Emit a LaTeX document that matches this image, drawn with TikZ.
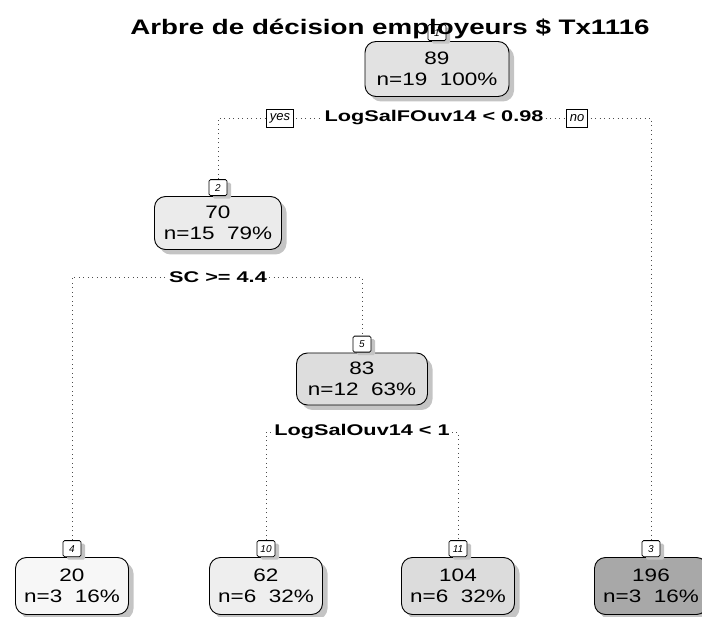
\documentclass[tikz,border=0pt]{standalone}
\usepackage{fontspec}
\setmainfont{Liberation Sans}
\newfontfamily\boxfont[FakeStretch=1.25]{Liberation Sans}
\newfontfamily\splitfont[FakeStretch=1.4]{Liberation Sans}
\newfontfamily\titlefont[FakeStretch=1.32]{Liberation Sans}
\usetikzlibrary{shadows,backgrounds}
\definecolor{cRoot}{HTML}{E2E2E2}
\definecolor{cTwo}{HTML}{EBEBEB}
\definecolor{cFive}{HTML}{DDDDDD}
\definecolor{cFour}{HTML}{F7F7F7}
\definecolor{cTen}{HTML}{EEEEEE}
\definecolor{cEleven}{HTML}{DCDCDC}
\definecolor{cThree}{HTML}{A8A8A8}
\definecolor{cShadow}{HTML}{C4C4C4}
\tikzset{
  treebox/.style={draw=black, line width=0.9pt, rounded corners=11pt,
    minimum height=55pt, inner sep=0pt, align=center,
    font=\boxfont\fontsize{18}{21}\selectfont,
    drop shadow={shadow xshift=5pt, shadow yshift=-5pt, fill=cShadow, opacity=1}},
  leafbox/.style={treebox, minimum width=113pt, minimum height=57pt},
  tagbox/.style={draw=black, line width=0.8pt, fill=white, rounded corners=1.5pt,
    minimum width=18pt, minimum height=16pt, inner sep=2pt, anchor=south,
    font=\itshape\fontsize{10}{10}\selectfont,
    drop shadow={shadow xshift=4pt, shadow yshift=-3pt, fill=cShadow, opacity=1}},
  splitlabel/.style={fill=white, inner sep=2pt,
    font=\splitfont\bfseries\fontsize{15.5}{15.5}\selectfont},
  yesno/.style={draw=black, line width=0.8pt, fill=white, inner xsep=3pt, inner ysep=2pt,
    minimum height=18pt, font=\itshape\fontsize{13}{13}\selectfont},
  edge/.style={draw=black!70, line width=0.8pt, dash pattern=on 1pt off 3.5pt},
}
\begin{document}
\begin{tikzpicture}[x=1pt, y=-1pt]
\useasboundingbox (0,0) rectangle (702,617);

% internal nodes
\node[treebox, fill=cRoot, minimum width=144pt] (n1) at (437,69) {89\\n=19\ \ 100\%};
\node[tagbox] (t1) at (n1.north) {1};

\node[treebox, fill=cTwo, minimum width=127pt, minimum height=53pt] (n2) at (218,223) {70\\n=15\ \ 79\%};
\node[tagbox] (t2) at (n2.north) {2};

\node[treebox, fill=cFive, minimum width=131pt, minimum height=52pt] (n5) at (362,379) {83\\n=12\ \ 63\%};
\node[tagbox] (t5) at (n5.north) {5};

% leaves
\node[leafbox, fill=cFour] (n4) at (72,586) {20\\n=3\ \ 16\%};
\node[tagbox] (t4) at (n4.north) {4};

\node[leafbox, fill=cTen] (n10) at (266,586) {62\\n=6\ \ 32\%};
\node[tagbox] (t10) at (n10.north) {10};

\node[leafbox, fill=cEleven] (n11) at (458,586) {104\\n=6\ \ 32\%};
\node[tagbox] (t11) at (n11.north) {11};

\node[leafbox, fill=cThree] (n3) at (651,586) {196\\n=3\ \ 16\%};
\node[tagbox] (t3) at (n3.north) {3};

% split labels
\node[splitlabel] (s1) at (434,118) {LogSalFOuv14 < 0.98};
\node[yesno] (yes) at (280,118) {yes};
\node[yesno] (no) at (577,118) {no};
\node[splitlabel] (s2) at (218,277) {SC >= 4.4};
\node[splitlabel] (s3) at (362,432) {LogSalOuv14 < 1};

% connectors
\begin{scope}[on background layer]
\draw[edge] (t2.north) |- (s1) -| (t3.north);
\draw[edge] (t4.north) |- (s2) -| (t5.north);
\draw[edge] (t10.north) |- (s3) -| (t11.north);
\end{scope}

% title
\node[anchor=base, inner sep=0pt, font=\titlefont\bfseries\fontsize{21}{21}\selectfont] (title) at (390,35) {Arbre de décision employeurs \$ Tx1116};
\end{tikzpicture}
\end{document}
